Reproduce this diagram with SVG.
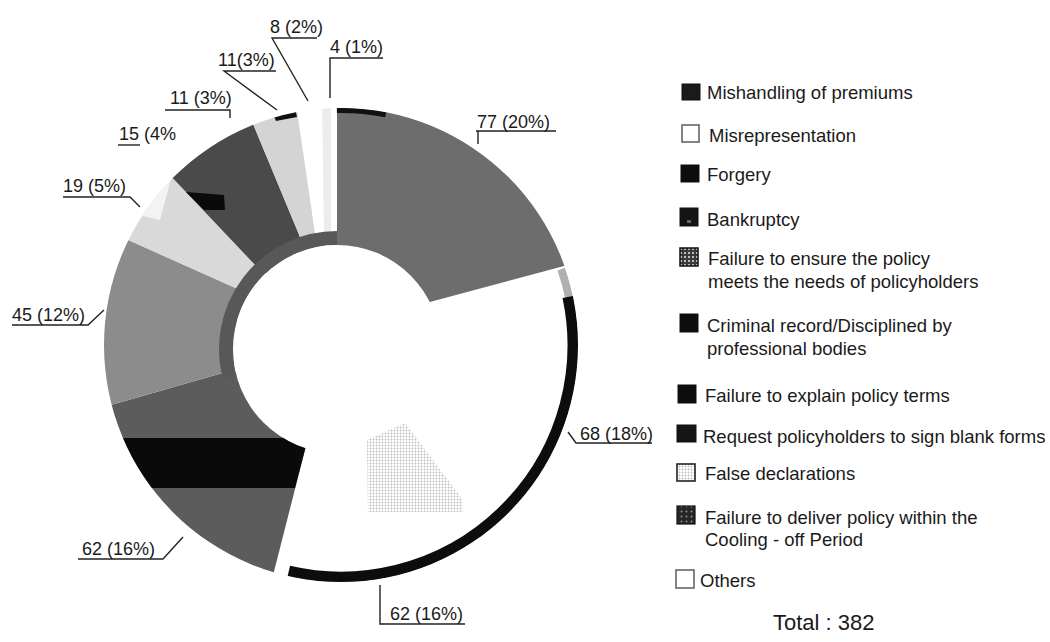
<svg xmlns="http://www.w3.org/2000/svg" width="1050" height="642" viewBox="0 0 1050 642">
<style>
.lbl{font-family:"Liberation Sans",Arial,sans-serif;font-size:18px;fill:#1a1a1a}
.leg{font-family:"Liberation Sans",Arial,sans-serif;font-size:18.5px;fill:#1a1a1a}
.tot{font-family:"Liberation Sans",Arial,sans-serif;font-size:22px;fill:#1a1a1a}
.ld{fill:none;stroke:#222;stroke-width:1.4}
.sw{stroke:#111;stroke-width:1}
.swo{fill:#fff;stroke:#666;stroke-width:1.6}
</style>
<defs>
<clipPath id="ring">
<path clip-rule="evenodd" d="M104,345a237,237 0 1,0 474,0a237,237 0 1,0 -474,0Z M233,349a104,104 0 1,0 208,0a104,104 0 1,0 -208,0Z"/>
</clipPath>
<pattern id="pEnsure" width="4" height="4" patternUnits="userSpaceOnUse">
<rect width="4" height="4" fill="#3a3a3a"/><rect width="2" height="2" fill="#bdbdbd"/>
</pattern>
<pattern id="pDeliver" width="5" height="5" patternUnits="userSpaceOnUse">
<rect width="5" height="5" fill="#262626"/><circle cx="1.5" cy="1.5" r="1" fill="#8a8a8a"/>
</pattern>
<pattern id="pDots" width="3" height="3" patternUnits="userSpaceOnUse">
<rect width="3" height="3" fill="#fff"/><circle cx="1.5" cy="1.5" r="0.9" fill="#bdbdbd"/>
</pattern>
</defs>

<g id="donut" clip-path="url(#ring)">
<g id="slice-68"><polygon points="341,345 626,252 632,418 546,564" fill="#fff"/></g>
<g id="slice-62b"><polygon points="341,345 546,564 414,636 258,633" fill="#fff"/></g>
<g id="slice-77">
<polygon points="337,40 337,310 400,310 650,243 650,40" fill="#6d6d6d"/>
<path d="M336.9,110.5A234.5,234.5 0 0,1 385.7,114.8" fill="none" stroke="#111" stroke-width="5"/>
</g>
<g id="slice-62a">
<polygon points="233,370 59,420 59,650 254,650 307,442" fill="#5c5c5c"/>
<polygon points="40,438 308,438 295,488 40,488" fill="#0a0a0a"/>
</g>
<g id="slice-45"><polygon points="240,290 61,210 40,210 40,420 59,420 233,370" fill="#8c8c8c"/></g>
<g id="slice-19">
<polygon points="240,290 61,210 112,114 257,267" fill="#d9d9d9"/>
<polygon points="126,212 172,175 160,220" fill="#f3f3f3"/>
</g>
<g id="slice-15">
<polygon points="257,267 112,114 150,40 229,66 300,237 310,300" fill="#4a4a4a"/>
<polygon points="186,192 224,195 225,210 204,210" fill="#0a0a0a"/>
</g>
<g id="slice-11a">
<polygon points="229,66 291,70 315,233 318,300 300,300 300,237" fill="#d4d4d4"/>
</g>
<g id="slice-11b"><polygon points="272,112 295,108 297,117 276,121" fill="#111"/></g>
<g id="slice-8"><polygon points="297,100 322,100 324,232 315,233" fill="#fff"/></g>
<g id="slice-4"><polygon points="322,100 331,100 331,232 324,232" fill="#ececec"/></g>
<path id="inner-ring" d="M229.8,377.7A111,111 0 0,1 337,238" fill="none" stroke="#585858" stroke-width="14"/>
<path d="M561.3,269.1A233,233 0 0,1 568.9,296.6" fill="none" stroke="#b0b0b0" stroke-width="8"/>
<path d="M567.9,296.8A232,232 0 0,1 288.8,571.1" fill="none" stroke="#0d0d0d" stroke-width="11"/>
</g>
<g id="center-mark"><polygon points="367,440 405,423 463,500 463,512 368,512" fill="url(#pDots)"/></g>

<g id="connectors">
<path class="ld" d="M476,131H556M478,131V144"/>
<path class="ld" d="M330,98V58H383"/>
<path class="ld" d="M308,101L272,38H317"/>
<path class="ld" d="M277,110L224,71H276"/>
<path class="ld" d="M165,110H230V118"/>
<path class="ld" d="M118,145H140"/>
<path class="ld" d="M63,197H130L140,207"/>
<path class="ld" d="M12,325H88L104,310"/>
<path class="ld" d="M78,559H163L183,537"/>
<path class="ld" d="M380,585V624H465"/>
<path class="ld" d="M568,432L576,443H652"/>
</g>

<g id="labels">
<text class="lbl" x="477" y="128">77 (20%)</text>
<text class="lbl" x="330" y="53">4 (1%)</text>
<text class="lbl" x="270" y="33">8 (2%)</text>
<text class="lbl" x="218" y="66">11(3%)</text>
<text class="lbl" x="170" y="104">11 (3%)</text>
<text class="lbl" x="119" y="140">15 (4%</text>
<text class="lbl" x="63" y="192">19 (5%)</text>
<text class="lbl" x="12" y="321">45 (12%)</text>
<text class="lbl" x="82" y="555">62 (16%)</text>
<text class="lbl" x="580" y="440">68 (18%)</text>
<text class="lbl" x="390" y="620">62 (16%)</text>
</g>

<g id="legend">
<g id="leg-1"><rect class="sw" x="682" y="84" width="18" height="16" fill="#1a1a1a"/><text class="leg" x="707" y="99">Mishandling of premiums</text></g>
<g id="leg-2"><rect class="swo" x="682" y="125" width="17" height="17"/><text class="leg" x="709" y="142">Misrepresentation</text></g>
<g id="leg-3"><rect class="sw" x="681" y="165" width="18" height="17" fill="#0d0d0d"/><text class="leg" x="707" y="181">Forgery</text></g>
<g id="leg-4"><rect class="sw" x="680" y="208" width="18" height="18" fill="#141414"/><rect x="687" y="220" width="4" height="3" fill="#666"/><text class="leg" x="707" y="226">Bankruptcy</text></g>
<g id="leg-5"><rect x="680" y="248" width="18" height="18" fill="url(#pEnsure)" stroke="#111" stroke-width="1.5"/><text class="leg" x="708" y="265">Failure to ensure the policy</text><text class="leg" x="708" y="288">meets the needs of policyholders</text></g>
<g id="leg-6"><rect class="sw" x="680" y="314" width="18" height="18" fill="#0d0d0d"/><text class="leg" x="707" y="332">Criminal record/Disciplined by</text><text class="leg" x="707" y="355">professional bodies</text></g>
<g id="leg-7"><rect class="sw" x="678" y="385" width="18" height="18" fill="#0d0d0d"/><text class="leg" x="705" y="402">Failure to explain policy terms</text></g>
<g id="leg-8"><rect class="sw" x="677" y="425" width="19" height="17" fill="#151515"/><text class="leg" x="703" y="443">Request policyholders to sign blank forms</text></g>
<g id="leg-9"><rect x="677" y="464" width="18" height="17" fill="url(#pDots)" stroke="#222" stroke-width="1.6"/><text class="leg" x="705" y="480">False declarations</text></g>
<g id="leg-10"><rect x="677" y="506" width="18" height="18" fill="url(#pDeliver)" stroke="#111" stroke-width="1.2"/><text class="leg" x="705" y="524">Failure to deliver policy within the</text><text class="leg" x="705" y="546">Cooling - off Period</text></g>
<g id="leg-11"><rect class="swo" x="676" y="570" width="18" height="18"/><text class="leg" x="700" y="587">Others</text></g>
<text class="tot" x="773" y="630">Total : 382</text>
</g>
</svg>
